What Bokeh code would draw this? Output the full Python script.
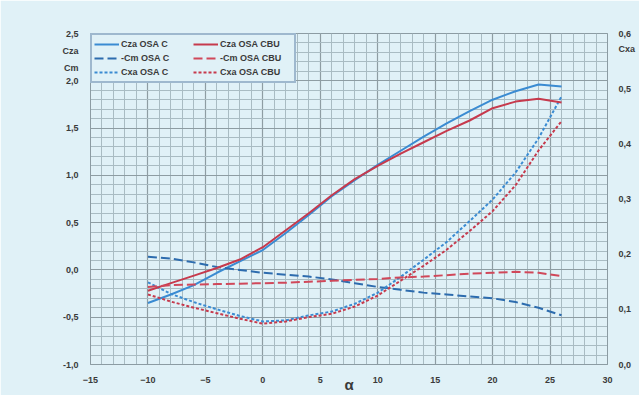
from bokeh.plotting import figure
from bokeh.models import (Range1d, LinearAxis, SingleIntervalTicker, FixedTicker, CustomJSTickFormatter,
                          Legend, LegendItem, ColumnDataSource)
from bokeh.embed import file_html
from bokeh.resources import INLINE

alpha = [-10, -8, -6, -4, -2, 0, 2, 4, 6, 8, 10, 12, 14, 16, 18, 20, 22, 24, 26]
cza_c = [-0.35, -0.26, -0.16, -0.03, 0.09, 0.21, 0.39, 0.58, 0.78, 0.95, 1.11, 1.26, 1.41, 1.55, 1.68, 1.80, 1.89, 1.96, 1.94]
cza_cbu = [-0.22, -0.14, -0.06, 0.02, 0.11, 0.24, 0.42, 0.60, 0.79, 0.96, 1.10, 1.23, 1.35, 1.47, 1.58, 1.71, 1.78, 1.81, 1.77]
cm_c = [0.14, 0.12, 0.08, 0.03, 0.00, -0.03, -0.05, -0.07, -0.10, -0.14, -0.18, -0.21, -0.24, -0.26, -0.28, -0.30, -0.34, -0.40, -0.48]
cm_cbu = [-0.18, -0.16, -0.155, -0.15, -0.145, -0.14, -0.135, -0.125, -0.115, -0.105, -0.095, -0.08, -0.07, -0.055, -0.04, -0.03, -0.02, -0.03, -0.065]
cxa_c = [0.149, 0.128, 0.113, 0.100, 0.088, 0.078, 0.080, 0.089, 0.096, 0.110, 0.130, 0.159, 0.190, 0.222, 0.260, 0.299, 0.348, 0.410, 0.486]
cxa_cbu = [0.127, 0.114, 0.103, 0.093, 0.083, 0.074, 0.078, 0.086, 0.092, 0.105, 0.125, 0.152, 0.179, 0.208, 0.242, 0.278, 0.325, 0.388, 0.441]

labels = ["Cza OSA C", "-Cm OSA C", "Cxa OSA C", "Cza OSA CBU", "-Cm OSA CBU", "Cxa OSA CBU"]

left_ticks = [-1.0, -0.5, 0.0, 0.5, 1.0, 1.5, 2.0, 2.5]
right_ticks = [0.0, 0.1, 0.2, 0.3, 0.4, 0.5, 0.6]
left_names = {2.31: "Cza", 2.14: "Cm"}
right_names = {0.571: "Cxa"}

BG = "#e0f1f7"
BLUE = "#3a8bd2"
BLUE_D = "#2d6cae"
RED = "#c63a4d"
RED_L = "#d0485a"
TXT = "#3a3a3a"
FONT = "Liberation Sans"

p = figure(frame_width=517, frame_height=331, output_backend="svg", toolbar_location=None,
           x_range=Range1d(-15, 30), y_range=Range1d(-1.0, 2.5),
           min_border_left=90, min_border_top=33, min_border_right=32, min_border_bottom=30,
           background_fill_color=BG, border_fill_color=BG, outline_line_color="#8c9ca3")
p.extra_y_ranges = {"cxa": Range1d(0.0, 0.6)}

fmt = CustomJSTickFormatter(code="return tick.toFixed(1).replace('.', ',').replace('-0,0','0,0');")

p.xaxis.ticker = SingleIntervalTicker(interval=5, num_minor_ticks=5)
p.yaxis.ticker = FixedTicker(ticks=left_ticks + list(left_names.keys()))
p.yaxis.formatter = fmt
p.yaxis.major_label_overrides = left_names

right = LinearAxis(y_range_name="cxa", ticker=FixedTicker(ticks=right_ticks + list(right_names.keys())),
                   formatter=fmt, major_label_overrides=right_names)
p.add_layout(right, "right")

for ax in [p.xaxis[0], p.yaxis[0], right]:
    ax.axis_line_color = "#8c9ca3"
    ax.major_tick_line_color = None
    ax.major_tick_out = 0
    ax.major_tick_in = 0
    ax.minor_tick_out = 0
    ax.minor_tick_in = 0
    ax.major_label_text_font = FONT
    ax.major_label_text_font_size = "9px"
    ax.major_label_text_font_style = "bold"
    ax.major_label_text_color = TXT

p.xaxis.major_label_standoff = 12
p.yaxis.major_label_standoff = 12
right.major_label_standoff = 11

p.xaxis.axis_label = "α"
p.xaxis.axis_label_text_font = FONT
p.xaxis.axis_label_text_font_size = "15px"
p.xaxis.axis_label_text_font_style = "bold"
p.xaxis.axis_label_text_color = TXT
p.xaxis.axis_label_standoff = -10

p.ygrid.ticker = SingleIntervalTicker(interval=0.5, num_minor_ticks=5)
p.xgrid.grid_line_color = "#8e9da3"
p.ygrid.grid_line_color = "#8e9da3"
p.xgrid.minor_grid_line_color = "#a9bcc3"
p.ygrid.minor_grid_line_color = "#a9bcc3"
p.xgrid.grid_line_width = 1.2
p.ygrid.grid_line_width = 1.2

src = ColumnDataSource(dict(a=alpha, cza_c=cza_c, cza_cbu=cza_cbu, cm_c=cm_c, cm_cbu=cm_cbu,
                            cxa_c=cxa_c, cxa_cbu=cxa_cbu))

r1 = p.line("a", "cza_c", source=src, line_color=BLUE, line_width=2)
r2 = p.line("a", "cm_c", source=src, line_color=BLUE_D, line_width=2, line_dash="9 4")
r3 = p.line("a", "cxa_c", source=src, line_color=BLUE, line_width=2, line_dash="3 2", y_range_name="cxa")
r4 = p.line("a", "cza_cbu", source=src, line_color=RED, line_width=2)
r5 = p.line("a", "cm_cbu", source=src, line_color=RED_L, line_width=2, line_dash="9 4")
r6 = p.line("a", "cxa_cbu", source=src, line_color=RED, line_width=2, line_dash="3 2", y_range_name="cxa")

legend = Legend(items=[LegendItem(label=l, renderers=[r]) for l, r in zip(labels, [r1, r2, r3, r4, r5, r6])],
                location="top_left", ncols=2, margin=0, padding=2, spacing=0,
                label_text_font=FONT, label_text_font_size="9px", label_text_color=TXT,
                label_text_font_style="bold",
                glyph_width=25, glyph_height=14, label_height=14, label_standoff=2, label_width=72,
                background_fill_color=BG, background_fill_alpha=1.0,
                border_line_color="#5b7fa6", border_line_width=2)
p.add_layout(legend)

open("out.html", "w").write(file_html(p, INLINE))
